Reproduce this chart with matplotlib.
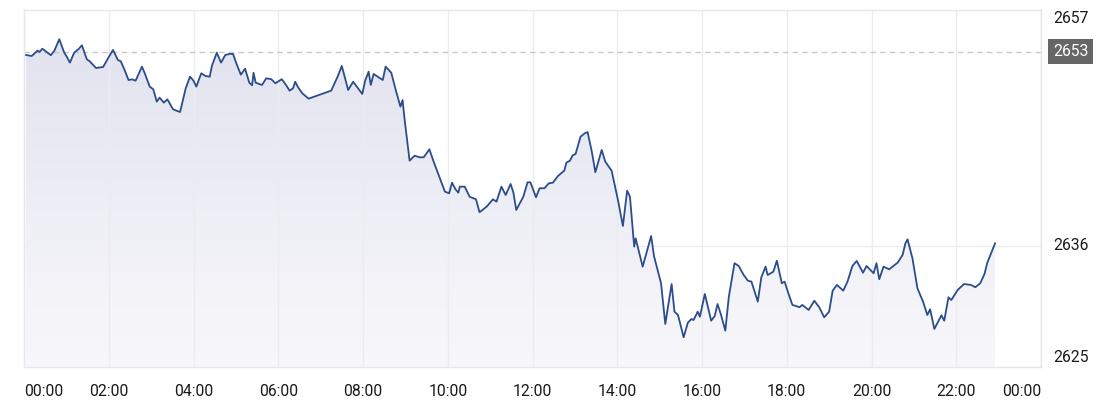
import matplotlib.pyplot as plt
import numpy as np
from matplotlib.colors import LinearSegmentedColormap

plt.rcParams['font.family'] = ['Roboto', 'DejaVu Sans']

# minutes since 00:00
minutes = [3, 11, 19, 22, 26, 32, 38, 43, 50, 57, 60, 65, 71, 77, 82, 89, 93, 102, 105, 112,
           119, 126, 133, 137, 142, 148, 153, 158, 167, 171, 178, 183, 188, 192, 198, 203, 211, 221, 229, 235,
           240, 244, 251, 257, 263, 266, 273, 279, 285, 291, 296, 301, 307, 313, 319, 323, 325, 328, 333, 337,
           343, 350, 356, 365, 371, 376, 381, 384, 388, 394, 403, 435, 444, 450, 459, 466, 473, 479, 483, 488,
           491, 495, 501, 508, 512, 520, 527, 533, 536, 539, 546, 553, 560, 566, 574, 580, 588, 596, 602, 606,
           611, 615, 617, 624, 631, 640, 645, 655, 664, 669, 676, 682, 689, 693, 697, 707, 713, 717, 725, 730,
           737, 743, 749, 756, 765, 768, 773, 777, 781, 788, 794, 798, 804, 809, 818, 823, 832, 841, 848, 854,
           858, 864, 866, 876, 888, 892, 902, 908, 917, 921, 926, 934, 940, 945, 948, 954, 957, 964, 973, 978,
           982, 987, 993, 998, 1006, 1012, 1019, 1025, 1030, 1039, 1044, 1050, 1053, 1061, 1066, 1073, 1077, 1082, 1088, 1093,
           1098, 1102, 1111, 1119, 1126, 1133, 1140, 1145, 1151, 1160, 1166, 1173, 1179, 1188, 1193, 1203, 1207, 1211, 1217, 1225,
           1237, 1244, 1248, 1251, 1258, 1265, 1273, 1279, 1283, 1289, 1299, 1303, 1309, 1313, 1322, 1331, 1341, 1347, 1354, 1360,
           1364, 1375]

prices = [2652.71, 2652.62, 2653.09, 2652.97, 2653.26, 2652.97, 2652.69, 2653.09, 2654.09, 2652.91,
          2652.62, 2652.04, 2652.91, 2653.21, 2653.56, 2652.33, 2652.16, 2651.57, 2651.60, 2651.66,
          2652.42, 2653.15, 2652.27, 2652.16, 2651.46, 2650.52, 2650.58, 2650.46, 2651.69, 2651.11,
          2649.94, 2649.71, 2648.63, 2648.98, 2648.54, 2648.83, 2647.96, 2647.72, 2649.80, 2650.81,
          2650.46, 2649.94, 2651.11, 2650.87, 2650.81, 2651.75, 2652.91, 2652.04, 2652.71, 2652.80,
          2652.80, 2651.92, 2650.99, 2651.51, 2650.29, 2650.06, 2651.16, 2650.29, 2650.17, 2650.09,
          2650.67, 2650.59, 2650.24, 2650.59, 2650.09, 2649.59, 2649.80, 2650.37, 2649.89, 2649.36,
          2648.89, 2649.59, 2650.81, 2651.75, 2649.65, 2650.37, 2649.80, 2649.30, 2650.46, 2651.25,
          2650.09, 2651.05, 2650.81, 2650.52, 2651.69, 2651.16, 2649.50, 2648.19, 2648.77, 2647.02,
          2643.46, 2643.90, 2643.76, 2643.76, 2644.46, 2643.38, 2642.06, 2640.75, 2640.61, 2641.54,
          2640.96, 2640.66, 2641.19, 2641.19, 2640.31, 2640.08, 2638.95, 2639.44, 2640.08, 2639.88,
          2641.19, 2640.46, 2641.42, 2640.66, 2639.15, 2640.31, 2641.57, 2641.57, 2640.26, 2641.05,
          2641.05, 2641.48, 2641.54, 2642.12, 2642.59, 2643.29, 2643.46, 2643.94, 2644.05, 2645.56,
          2645.86, 2645.97, 2644.25, 2642.45, 2644.40, 2643.38, 2642.59, 2640.02, 2637.75, 2640.84,
          2640.31, 2635.94, 2636.67, 2634.19, 2636.87, 2635.12, 2632.74, 2629.17, 2632.67, 2630.25,
          2629.96, 2628.01, 2629.29, 2629.61, 2629.52, 2630.25, 2629.81, 2631.80, 2629.46, 2629.87,
          2630.92, 2629.96, 2628.59, 2631.56, 2634.49, 2634.25, 2633.46, 2632.96, 2632.88, 2631.13,
          2633.26, 2634.19, 2633.46, 2633.75, 2634.71, 2632.74, 2632.88, 2631.91, 2630.84, 2630.75,
          2630.64, 2630.84, 2630.40, 2631.21, 2630.64, 2629.76, 2630.25, 2632.09, 2632.59, 2632.09,
          2632.88, 2634.25, 2634.69, 2633.66, 2634.25, 2633.61, 2634.49, 2633.09, 2634.19, 2633.96,
          2634.54, 2635.21, 2636.23, 2636.58, 2634.92, 2632.30, 2631.13, 2629.96, 2630.46, 2628.74,
          2629.93, 2629.46, 2631.51, 2631.27, 2632.15, 2632.67, 2632.59, 2632.39, 2632.74, 2633.55,
          2634.54, 2636.23]

prev_close = 2653
grid_level = 2636
y_low, y_high = 2625.41, 2656.69
tick_hours = list(range(0, 25, 2))
tick_labels = ['%02d:00' % (h % 24) for h in tick_hours]

hours = np.array(minutes) / 60
prices = np.array(prices)

fig = plt.figure(figsize=(11.2, 4.09), dpi=100)
ax = fig.add_axes([24 / 1120, 1 - 367 / 409, 1017 / 1120, 357.5 / 409])

# gradient fill under the line
fill = ax.fill_between(hours, prices, y_low, color='none', lw=0)
cmap = LinearSegmentedColormap.from_list('g', ['#f8f8fb', '#e3e3f0'])
grad = np.linspace(0, 1, 256).reshape(-1, 1)
img = ax.imshow(grad, cmap=cmap, aspect='auto', origin='lower',
                extent=[hours[0], hours[-1], y_low, prices.max()], zorder=1)
img.set_clip_path(fill.get_paths()[0], transform=ax.transData)
ax.set_xlim(0, 24)
ax.set_ylim(y_low, y_high)

ax.plot(hours, prices, color='#2b4d8c', lw=1.3, zorder=3)

ax.axhline(prev_close, color='#c8c8c8', lw=1, ls=(0, (4, 3)), zorder=2)
ax.axhline(grid_level, color='#ebebf0', lw=1, zorder=0)

ax.set_xticks(tick_hours)
ax.set_xticklabels(tick_labels, fontsize=11.3, color='#1a1a1a')
ax.grid(axis='x', color='#ebebf0', lw=1, zorder=0)
ax.tick_params(axis='x', length=0, pad=12)
ax.set_yticks([])
labels = ax.get_xticklabels()
labels[0].set_ha('left')
labels[-1].set_ha('right')

for s in ax.spines.values():
    s.set_color('#e6e6ec')
    s.set_linewidth(1)

trans = ('axes fraction', 'data')
ax.annotate('%d' % round(y_high), xy=(1, y_high), xycoords=trans, xytext=(12, -9),
            textcoords='offset pixels', ha='left', va='center', fontsize=11.3, color='#1a1a1a')
ax.annotate('%d' % round(y_low), xy=(1, y_low), xycoords=trans, xytext=(12, 9),
            textcoords='offset pixels', ha='left', va='center', fontsize=11.3, color='#1a1a1a')
ax.annotate('%d' % grid_level, xy=(1, grid_level), xycoords=trans, xytext=(12, 0),
            textcoords='offset pixels', ha='left', va='center', fontsize=11.3, color='#1a1a1a')
ax.annotate('%d' % prev_close, xy=(1, prev_close), xycoords=trans, xytext=(12, 0),
            textcoords='offset pixels', ha='left', va='center', fontsize=11.3, color='white',
            bbox=dict(boxstyle='square,pad=0.3', fc='#666666', ec='none'))

fig.savefig('out.png', dpi=100)
